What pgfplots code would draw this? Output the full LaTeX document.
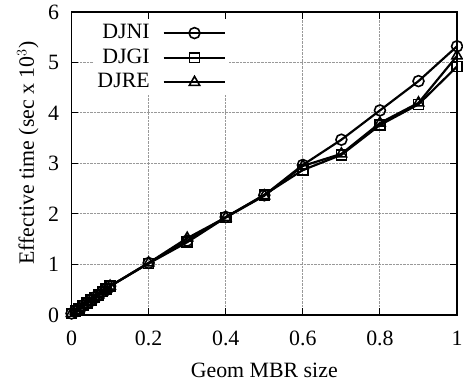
\documentclass[border=0pt]{standalone}
\usepackage{fontspec}
\setmainfont{Liberation Serif}
\usepackage{pgfplots}
\pgfplotsset{compat=1.18}
\begin{document}
\fontsize{22}{26}\selectfont
\begin{tikzpicture}
\begin{axis}[
  scale only axis, width=388pt, height=305pt,
  xmin=0, xmax=1, ymin=0, ymax=6,
  xtick={0,0.2,0.4,0.6,0.8,1}, ytick={0,1,2,3,4,5,6},
  xticklabels={0,0.2,0.4,0.6,0.8,1},
  /pgf/number format/assume math mode=true,
  tick label style={font=\fontsize{22}{26}\selectfont},
  label style={font=\fontsize{22}{26}\selectfont},
  tick align=inside, major tick length=7pt,
  tick style={black, line width=1pt},
  axis line style={line width=1.3pt},
  grid=major, major grid style={densely dotted, gray!80, line width=1pt},
  xticklabel style={yshift=-9pt},
  yticklabel style={xshift=-5pt},
  every axis y label/.style={at={(-44pt,163pt)}, rotate=90, anchor=center},
  every axis x label/.style={at={(194pt,-56pt)}, anchor=center},
  xlabel={Geom MBR size},
  ylabel={Effective time (sec x 10$^3$)},
  legend plot pos=right,
  legend cell align=right,
  legend style={at={(rel axis cs:0.41,0.973)}, anchor=north east, draw=none, fill=white,
    font=\fontsize{22}{26}\selectfont, row sep=5pt, column sep=12pt, inner sep=3pt,
    nodes={inner sep=1pt}},
  legend image code/.code={\draw[mark repeat=2,mark phase=2] plot coordinates {(0pt,0pt)(31pt,0pt)(62pt,0pt)};},
  every axis plot/.append style={line width=2.2pt, black},
]
\addplot[mark=o, mark size=5.5pt, mark options={solid, line width=1.6pt}] coordinates {
(0,0.03)(0.01,0.08)(0.02,0.13)(0.03,0.19)(0.04,0.24)(0.05,0.30)(0.06,0.35)(0.07,0.40)(0.08,0.46)(0.09,0.51)(0.1,0.57)
(0.2,1.03)(0.3,1.47)(0.4,1.94)(0.5,2.37)(0.6,2.97)(0.7,3.47)(0.8,4.05)(0.9,4.63)(1.0,5.32)};
\addlegendentry{DJNI}
\addplot[mark=square, mark size=5pt, mark options={solid, line width=1.6pt}] coordinates {
(0,0.03)(0.01,0.08)(0.02,0.13)(0.03,0.19)(0.04,0.24)(0.05,0.30)(0.06,0.35)(0.07,0.40)(0.08,0.46)(0.09,0.51)(0.1,0.57)
(0.2,1.02)(0.3,1.44)(0.4,1.93)(0.5,2.38)(0.6,2.87)(0.7,3.17)(0.8,3.76)(0.9,4.17)(1.0,4.92)};
\addlegendentry{DJGI}
\addplot[mark=triangle, mark size=6pt, mark options={solid, line width=1.6pt}] coordinates {
(0,0.03)(0.01,0.08)(0.02,0.13)(0.03,0.19)(0.04,0.24)(0.05,0.30)(0.06,0.35)(0.07,0.40)(0.08,0.46)(0.09,0.51)(0.1,0.57)
(0.2,1.03)(0.3,1.52)(0.4,1.93)(0.5,2.36)(0.6,2.95)(0.7,3.19)(0.8,3.80)(0.9,4.20)(1.0,5.13)};
\addlegendentry{DJRE}
\end{axis}
\pgfresetboundingbox
\useasboundingbox (-72pt,-72pt) rectangle (394pt,317pt);
\end{tikzpicture}
\end{document}
